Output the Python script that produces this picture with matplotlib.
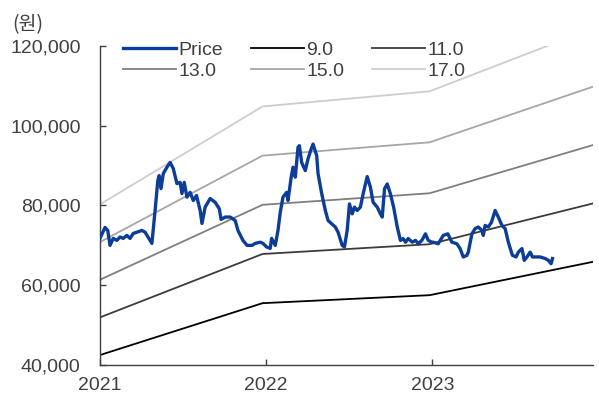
import numpy as np
import pandas as pd
import matplotlib.pyplot as plt
import matplotlib.dates as mdates

plt.rcParams['font.family'] = ['Liberation Sans', 'Noto Sans CJK KR', 'DejaVu Sans']

# 주가 (원)
price_dates = [
    "2021-01-01", "2021-01-12", "2021-01-18", "2021-01-23", "2021-01-30", "2021-02-07",
    "2021-02-14", "2021-02-21", "2021-03-01", "2021-03-08", "2021-03-15", "2021-03-23",
    "2021-04-03", "2021-04-10", "2021-04-21", "2021-04-25", "2021-05-02", "2021-05-08",
    "2021-05-11", "2021-05-15", "2021-05-20", "2021-05-28", "2021-06-04", "2021-06-11",
    "2021-06-19", "2021-06-26", "2021-06-30", "2021-07-05", "2021-07-11", "2021-07-18",
    "2021-07-25", "2021-08-01", "2021-08-09", "2021-08-13", "2021-08-20", "2021-08-31",
    "2021-09-06", "2021-09-11", "2021-09-20", "2021-09-24", "2021-10-03", "2021-10-14",
    "2021-10-25", "2021-10-31", "2021-11-11", "2021-11-20", "2021-12-01", "2021-12-08",
    "2021-12-19", "2021-12-25", "2022-01-02", "2022-01-10", "2022-01-13", "2022-01-21",
    "2022-01-27", "2022-02-01", "2022-02-07", "2022-02-15", "2022-02-18", "2022-02-25",
    "2022-03-01", "2022-03-06", "2022-03-12", "2022-03-15", "2022-03-20", "2022-03-28",
    "2022-04-03", "2022-04-10", "2022-04-14", "2022-04-22", "2022-04-25", "2022-05-03",
    "2022-05-11", "2022-05-17", "2022-05-25", "2022-06-02", "2022-06-08", "2022-06-17",
    "2022-06-22", "2022-06-28", "2022-07-03", "2022-07-09", "2022-07-14", "2022-07-20",
    "2022-07-27", "2022-08-02", "2022-08-11", "2022-08-18", "2022-08-24", "2022-09-02",
    "2022-09-09", "2022-09-13", "2022-09-18", "2022-09-24", "2022-10-01", "2022-10-08",
    "2022-10-16", "2022-10-23", "2022-10-29", "2022-11-03", "2022-11-09", "2022-11-18",
    "2022-11-25", "2022-12-01", "2022-12-09", "2022-12-17", "2022-12-23", "2022-12-31",
    "2023-01-03", "2023-01-14", "2023-01-25", "2023-02-04", "2023-02-13", "2023-02-24",
    "2023-03-03", "2023-03-10", "2023-03-18", "2023-03-21", "2023-03-29", "2023-04-05",
    "2023-04-12", "2023-04-20", "2023-04-23", "2023-04-27", "2023-05-04", "2023-05-11",
    "2023-05-19", "2023-05-26", "2023-06-03", "2023-06-10", "2023-06-17", "2023-06-26",
    "2023-07-04", "2023-07-09", "2023-07-17", "2023-07-22", "2023-07-28", "2023-08-04",
    "2023-08-09", "2023-08-15", "2023-08-26", "2023-09-06", "2023-09-13", "2023-09-19",
    "2023-09-22",
]
price = [
    71750, 74500, 73750, 70000, 71750, 71250,
    72100, 71750, 72500, 71750, 73000, 73300,
    73750, 73300, 71250, 70500, 78750, 86250,
    87500, 84250, 88000, 89600, 90800, 89250,
    85500, 85800, 83000, 85800, 82100, 83300,
    81250, 82500, 78750, 75500, 79600, 81750,
    81250, 80800, 79200, 76500, 77100, 77100,
    76250, 73750, 71250, 70000, 70000, 70500,
    70800, 70500, 69600, 69250, 71750, 70000,
    73750, 78300, 82100, 83300, 81250, 87100,
    89600, 87100, 94600, 95000, 90800, 88750,
    91700, 94200, 95400, 92500, 88000, 83000,
    78750, 76250, 75400, 74600, 73300, 70000,
    69600, 73750, 80400, 77900, 79600, 78750,
    79600, 82900, 87250, 84600, 80800, 79600,
    77900, 77100, 84200, 85400, 82900, 79600,
    74600, 71250, 71700, 70800, 71700, 70800,
    71250, 70400, 71250, 72900, 71250, 70800,
    70800, 70400, 72500, 72900, 70800, 70400,
    69200, 67100, 67500, 68300, 72900, 74200,
    74600, 73750, 72500, 75000, 74600, 75800,
    78750, 77100, 75000, 74200, 70800, 67500,
    67100, 68300, 69200, 66250, 67100, 68300,
    67100, 67100, 67100, 66700, 66250, 65400,
    66700,
]

# PER 밴드: 기준 EPS (원) 와 배수
eps_dates = ["2021-01-01", "2021-12-24", "2022-12-26", "2023-12-20"]
eps = [4722, 6167, 6390, 7320]
multiples = [9.0, 11.0, 13.0, 15.0, 17.0]
band_colors = ["#000000", "#3c3c3c", "#7f7f7f", "#a6a6a6", "#cdcdcd"]

px = pd.to_datetime(price_dates)
ex = pd.to_datetime(eps_dates)

fig = plt.figure(figsize=(5.99, 3.99), dpi=100)
ax = fig.add_axes([100 / 599, 1 - 365 / 399, 493 / 599, 319 / 399])

handles = {}
(handles["Price"],) = ax.plot(px, price, color="#0b3d99", lw=2.4, label="Price", zorder=5)
for m, c in zip(multiples, band_colors):
    (handles[f"{m:.1f}"],) = ax.plot(ex, np.array(eps) * m, color=c, lw=1.3, label=f"{m:.1f}")

ax.set_xlim(pd.Timestamp("2021-01-01"), pd.Timestamp("2023-12-20"))
ax.set_ylim(40000, 120000)
ax.set_yticks([40000, 60000, 80000, 100000, 120000])
ax.yaxis.set_major_formatter(plt.FuncFormatter(lambda v, p: f"{v:,.0f}"))
ax.xaxis.set_major_locator(mdates.YearLocator())
ax.xaxis.set_major_formatter(mdates.DateFormatter("%Y"))

for s in ["top", "right"]:
    ax.spines[s].set_visible(False)
for s in ["left", "bottom"]:
    ax.spines[s].set_color("#404040")
    ax.spines[s].set_linewidth(1.0)
ax.tick_params(axis="both", direction="in", length=4, width=1, color="#404040",
               labelsize=14, labelcolor="#404040")
ax.tick_params(axis="y", pad=14)
ax.tick_params(axis="x", pad=9)

order = ["Price", "13.0", "9.0", "15.0", "11.0", "17.0"]
fig.legend([handles[k] for k in order], order, ncol=3, frameon=False,
           loc="upper left", bbox_to_anchor=(123 / 599, 1 - 41 / 399),
           fontsize=14, handlelength=2.75, handletextpad=0.12,
           columnspacing=1.4, labelspacing=0.2, borderpad=0, borderaxespad=0,
           labelcolor="#404040")

fig.text(12 / 599, 1 - 25 / 399, "(원)", fontsize=14, color="#404040", va="center",
         family=["Noto Sans CJK KR", "DejaVu Sans"])

fig.savefig("out.png", dpi=100)
